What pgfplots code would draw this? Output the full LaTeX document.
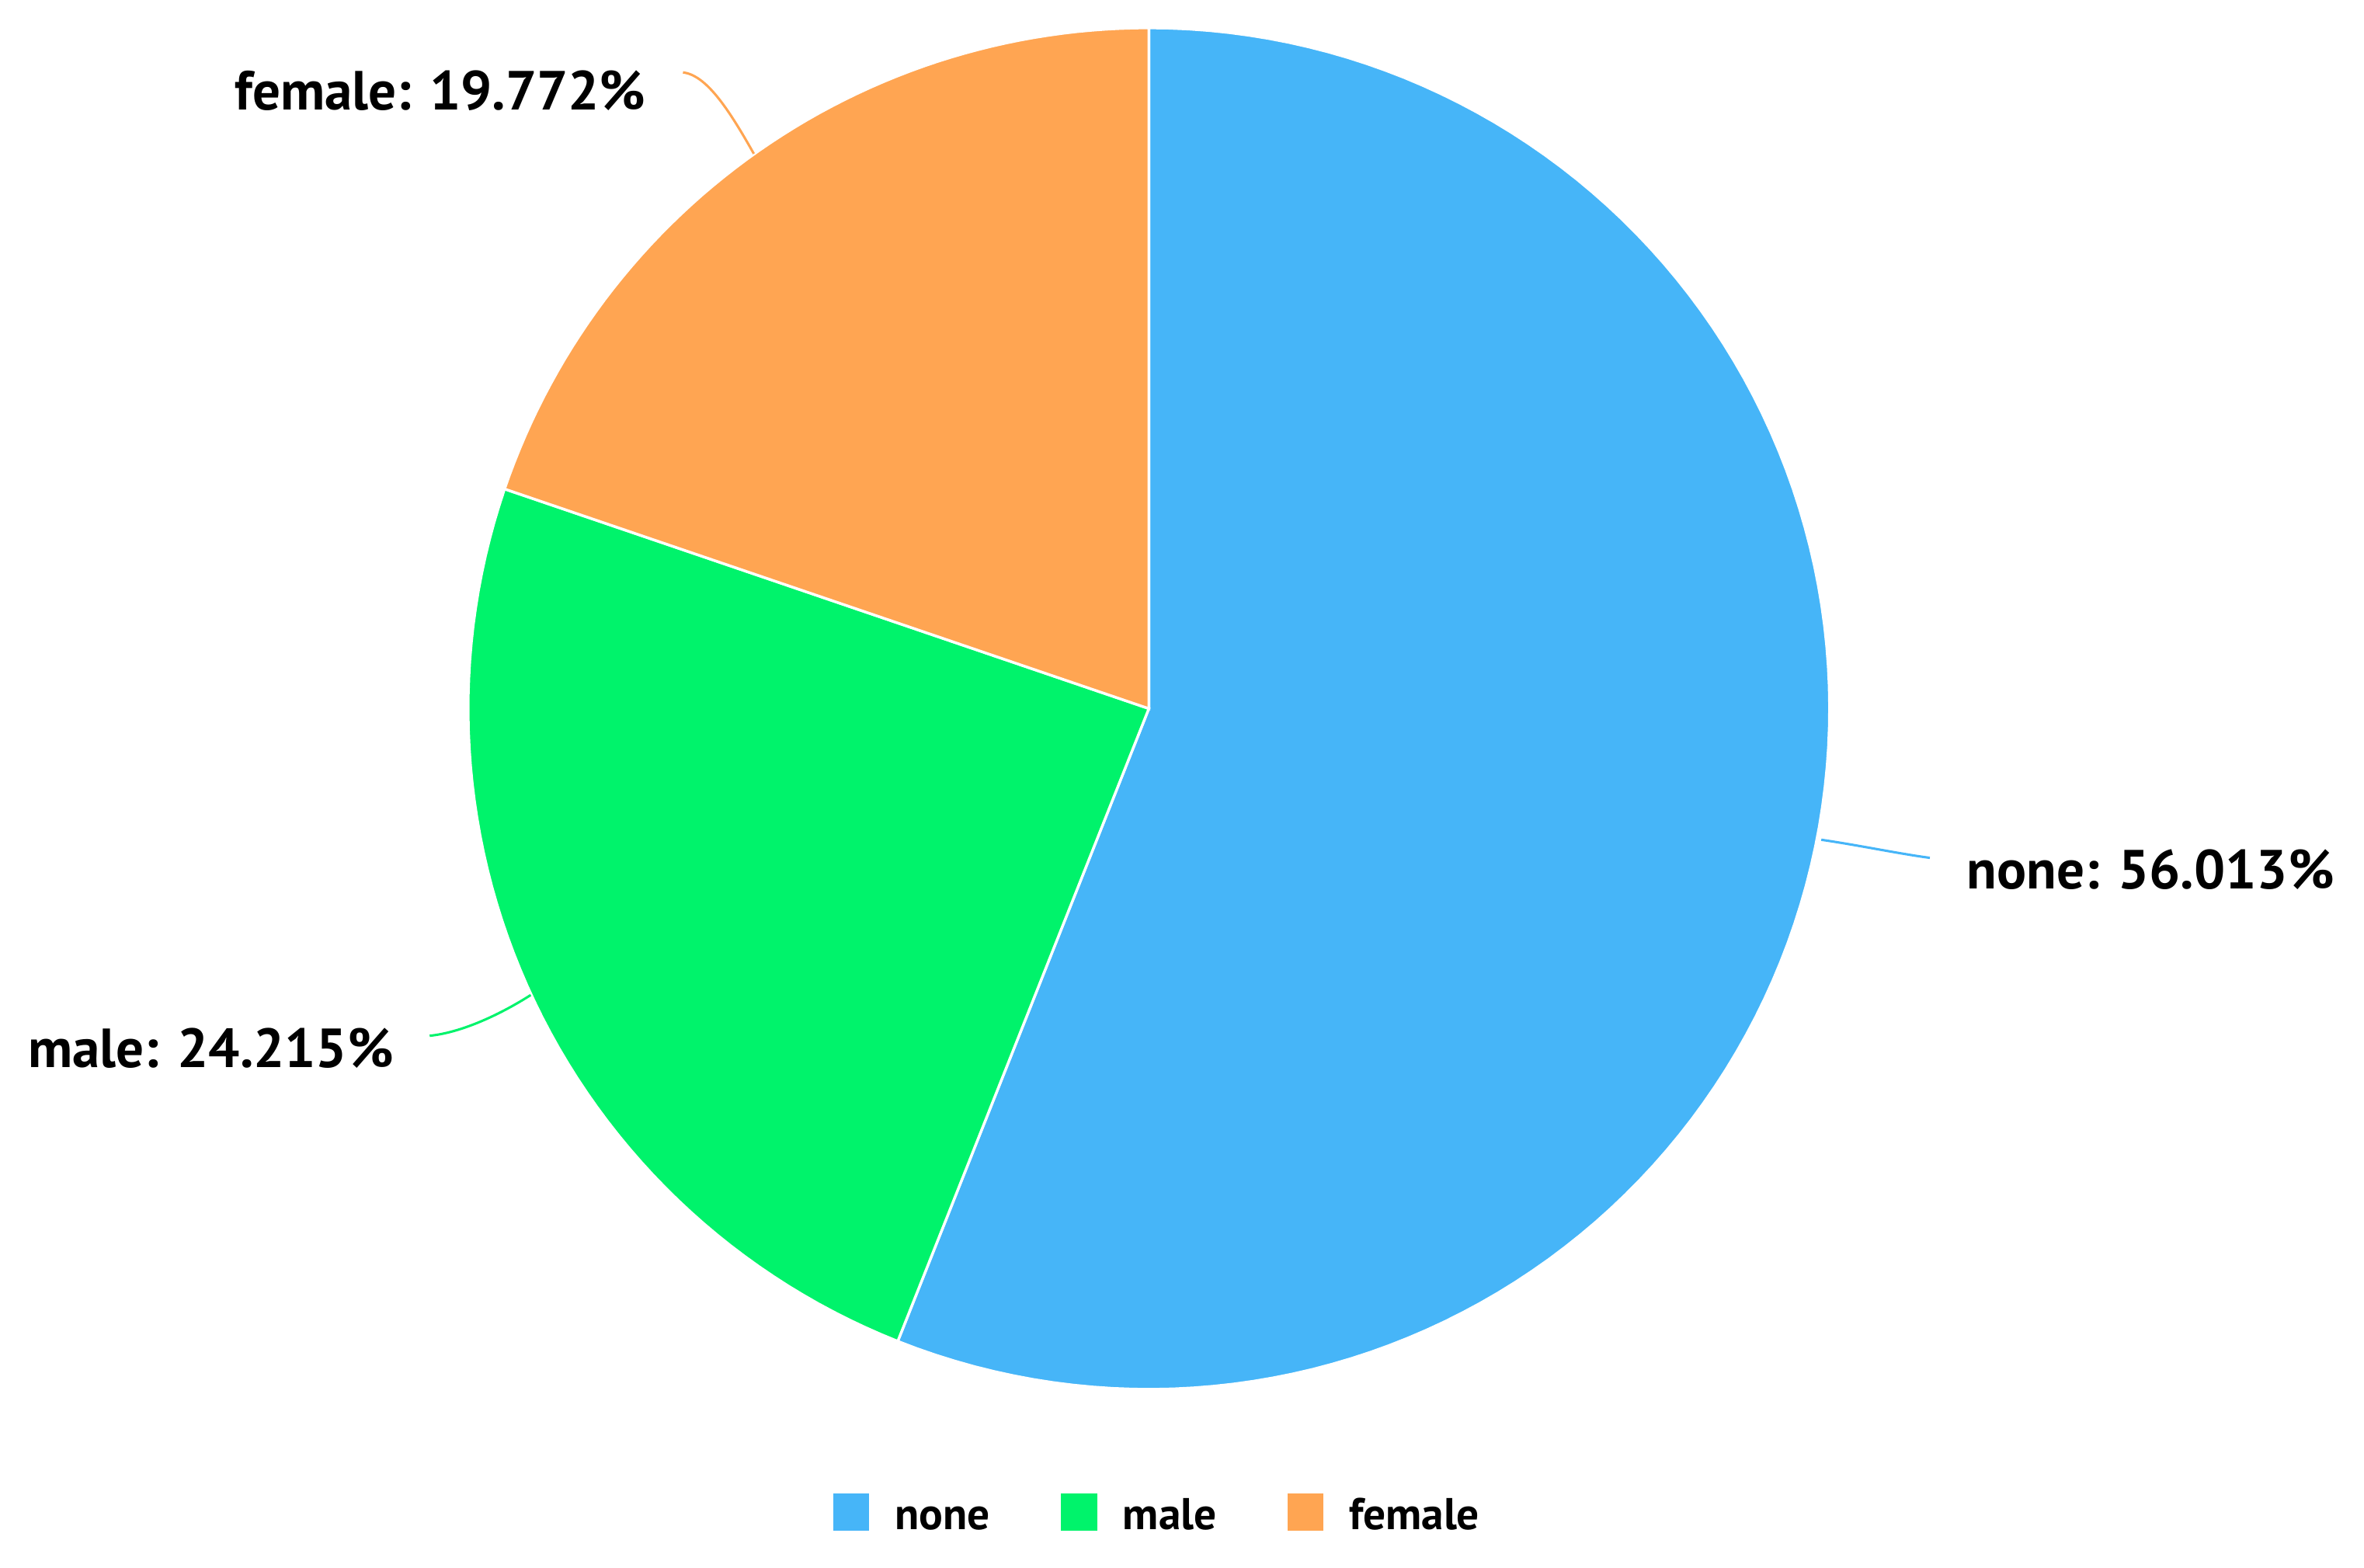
\documentclass[border=0pt]{standalone}
\usepackage{fontspec}
\setmainfont{PT Sans}
\usepackage{pgfplots}
\usepackage{pgfplotstable}
\pgfplotsset{compat=1.18}

\definecolor{cnone}{HTML}{46B5F8}
\definecolor{cmale}{HTML}{00F36B}
\definecolor{cfemale}{HTML}{FFA552}

\pgfplotstableread{
label  value
none   56.013
male   24.215
female 19.772
}\pie

\pgfplotstablegetelem{0}{value}\of\pie \let\vA\pgfplotsretval
\pgfplotstablegetelem{1}{value}\of\pie \let\vB\pgfplotsretval
\pgfplotstablegetelem{2}{value}\of\pie \let\vC\pgfplotsretval
% slices run clockwise from 12 o'clock
\pgfmathsetmacro\aA{90}
\pgfmathsetmacro\aB{\aA-3.6*\vA}
\pgfmathsetmacro\aC{\aB-3.6*\vB}
\pgfmathsetmacro\aD{\aC-3.6*\vC}
\def\cx{762}\def\cy{570}\def\R{451.5}

\begin{document}
\begin{tikzpicture}
\begin{axis}[
  width=15.68cm, height=10.4cm, scale only axis,
  xmin=0, xmax=1568, ymin=0, ymax=1040,
  hide axis, clip=false,
  area legend,
  legend columns=3,
  legend image code/.code={\fill[#1,draw=none] (0cm,-0.125cm) rectangle (0.24cm,0.125cm);},
  legend style={at={(0.4914,0.0356)}, anchor=center, draw=none, fill=none,
    font=\fontsize{8.4}{10}\selectfont\bfseries,
    nodes={text height=1.55ex, text depth=0.25ex},
    /tikz/every even column/.append style={column sep=0.4cm},
    /tikz/every odd column/.append style={column sep=0.1cm}},
  ]
\addplot[fill=cnone, draw=white, line width=0.5pt, domain=\aB:\aA, samples=120, variable=\t]
  ({\cx+\R*cos(\t)},{\cy+\R*sin(\t)}) -- (axis cs:\cx,\cy) -- cycle;
\addlegendentry{none}
\addplot[fill=cmale, draw=white, line width=0.5pt, domain=\aC:\aB, samples=60, variable=\t]
  ({\cx+\R*cos(\t)},{\cy+\R*sin(\t)}) -- (axis cs:\cx,\cy) -- cycle;
\addlegendentry{male}
\addplot[fill=cfemale, draw=white, line width=0.5pt, domain=\aD:\aC, samples=60, variable=\t]
  ({\cx+\R*cos(\t)},{\cy+\R*sin(\t)}) -- (axis cs:\cx,\cy) -- cycle;
\addlegendentry{female}

% connectors
\draw[cnone, line width=0.45pt] (axis cs:1208,483) .. controls (axis cs:1235,479) and (axis cs:1258,474) .. (axis cs:1280,471);
\draw[cmale, line width=0.45pt] (axis cs:285,353) .. controls (axis cs:305,355) and (axis cs:330,366) .. (axis cs:352,380);
\draw[cfemale, line width=0.45pt] (axis cs:453,992) .. controls (axis cs:468,990) and (axis cs:482,970) .. (axis cs:500,938);

\tikzset{lab/.style={font=\fontsize{10.4}{12}\selectfont\bfseries, inner sep=0pt}}
\node[lab, anchor=east] at (axis cs:429,980) {female: 19.772\%};
\node[lab, anchor=west] at (axis cs:1304,463) {none: 56.013\%};
\node[lab, anchor=west] at (axis cs:18,345) {male: 24.215\%};
\end{axis}
\pgfresetboundingbox
\useasboundingbox (current axis.south west) rectangle (current axis.north east);
\end{tikzpicture}
\end{document}
